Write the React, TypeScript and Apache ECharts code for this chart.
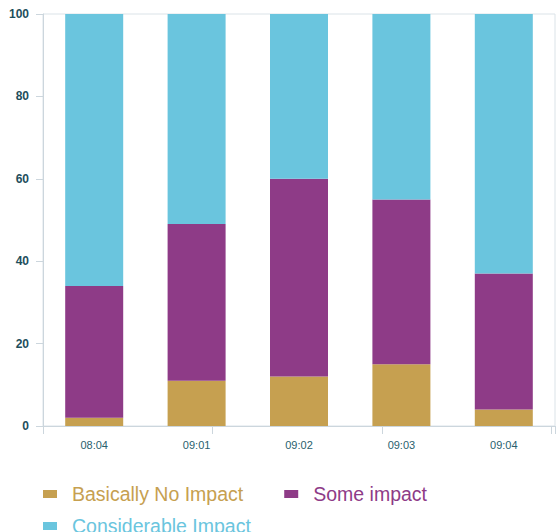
import React, { useEffect, useRef } from "react";
import * as echarts from "echarts";

const categories = ["08:04", "09:01", "09:02", "09:03", "09:04"];
const basicallyNoImpact = [2, 11, 12, 15, 4];
const someImpact = [32, 38, 48, 40, 33];
const considerableImpact = [66, 51, 40, 45, 63];
const seriesNames = ["Basically No Impact", "Some impact", "Considerable Impact"];
const colors = ["#C6A050", "#8E3B87", "#6AC5DE"];

export default function App() {
  const ref = useRef<HTMLDivElement>(null);
  useEffect(() => {
    if (!ref.current) return;
    const chart = echarts.init(ref.current, undefined, { renderer: "svg" });
    const values = [basicallyNoImpact, someImpact, considerableImpact];
    chart.setOption({
      animation: false,
      grid: {
        left: 43,
        right: 1,
        top: 14,
        bottom: 106,
        show: true,
        borderColor: "#dbe3e8",
        borderWidth: 1,
      },
      legend: {
        left: 38,
        top: 479,
        width: 480,
        itemWidth: 14,
        itemHeight: 8,
        itemGap: 12,
        icon: "rect",
        textStyle: {
          fontSize: 19.5,
          fontFamily: "Liberation Sans, Arial, sans-serif",
          lineHeight: 11,
          padding: [0, 29, 0, 10],
        },
        data: seriesNames.map((n, i) => ({ name: n, textStyle: { color: colors[i] } })),
      },
      xAxis: [
        {
          type: "category",
          data: categories,
          axisLine: { lineStyle: { color: "#ccd6dd" } },
          axisTick: { show: false },
          axisLabel: {
            color: "#2a5f6e",
            fontSize: 11,
            fontFamily: "Liberation Sans, Arial, sans-serif",
            margin: 13,
          },
        },
        {
          type: "value",
          position: "bottom",
          min: 0,
          max: 3.02,
          interval: 1,
          axisLine: { show: false },
          axisTick: { show: true, length: 8, lineStyle: { color: "#ccd6dd" } },
          axisLabel: { show: false },
          splitLine: { show: false },
        },
      ],
      yAxis: {
        type: "value",
        min: 0,
        max: 100,
        interval: 20,
        axisLine: { show: true, lineStyle: { color: "#ccd6dd" } },
        axisTick: { show: true, length: 7, lineStyle: { color: "#ccd6dd" } },
        splitLine: { show: false },
        axisLabel: {
          color: "#1d4e5c",
          fontSize: 12,
          fontWeight: "bold",
          fontFamily: "Liberation Sans, Arial, sans-serif",
          margin: 14,
        },
      },
      series: seriesNames.map((n, i) => ({
        name: n,
        type: "bar",
        stack: "total",
        xAxisIndex: 0,
        barWidth: 58,
        itemStyle: { color: colors[i] },
        data: values[i],
      })),
    });
    return () => chart.dispose();
  }, []);
  return <div ref={ref} style={{ width: 556, height: 532, position: "absolute", left: 0, top: 0 }} />;
}
